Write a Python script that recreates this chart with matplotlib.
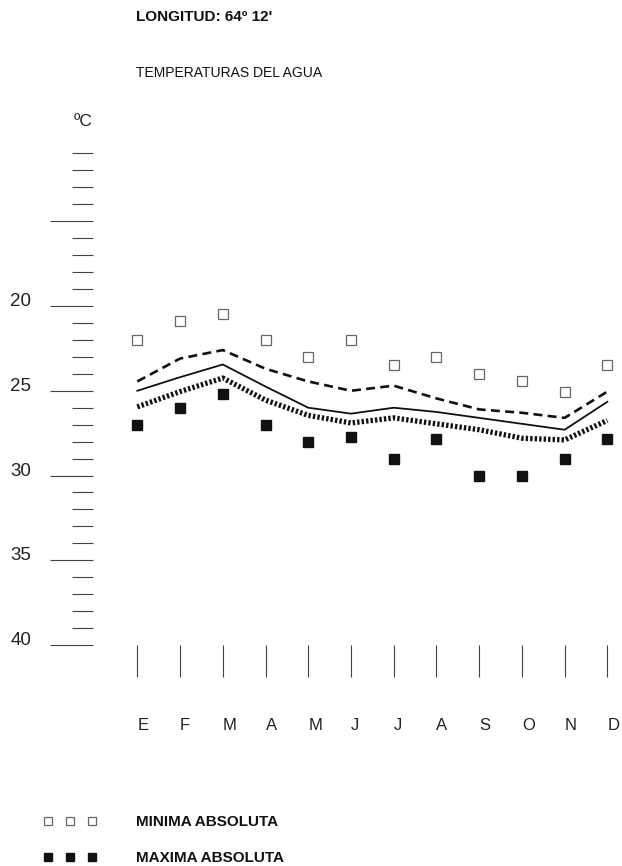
import matplotlib
matplotlib.use("Agg")
import matplotlib.pyplot as plt
from matplotlib.ticker import FixedLocator

plt.rcParams['font.family'] = ['Liberation Sans', 'DejaVu Sans']

# Monthly water temperatures (ºC)
months = ['E', 'F', 'M', 'A', 'M', 'J', 'J', 'A', 'S', 'O', 'N', 'D']
minima_absoluta = [22.0, 20.9, 20.5, 22.0, 23.0, 22.0, 23.5, 23.0, 24.0, 24.4, 25.1, 23.5]
maxima_absoluta = [27.0, 26.0, 25.2, 27.0, 28.0, 27.7, 29.0, 27.85, 30.0, 30.0, 29.0, 27.85]
media_minimas = [24.45, 23.1, 22.6, 23.7, 24.45, 25.0, 24.7, 25.45, 26.1, 26.3, 26.6, 25.05]
media = [25.0, 24.2, 23.45, 24.75, 26.0, 26.35, 26.0, 26.25, 26.6, 26.95, 27.3, 25.65]
media_maximas = [25.95, 25.05, 24.25, 25.55, 26.45, 26.9, 26.6, 26.95, 27.3, 27.8, 27.9, 26.75]

y_major = [15, 20, 25, 30, 35, 40]
y_major_labels = ['', '20', '25', '30', '35', '40']
y_minor = list(range(11, 41))

W, H = 622, 866
fig = plt.figure(figsize=(W / 100, H / 100), dpi=100)

# axes placed in pixel terms
left_px, right_px, top_px, bottom_px = 93, 622, 145, 645
ax = fig.add_axes([left_px / W, 1 - bottom_px / H,
                   (right_px - left_px) / W, (bottom_px - top_px) / H])
x = list(range(len(months)))
ax.set_xlim(-1.037, 11.343)
ax.set_ylim(40, 10.5)
for s in ax.spines.values():
    s.set_visible(False)

# temperature lines
ax.plot(x, media_minimas, color='#111', lw=1.9, linestyle=(0, (3.4, 2.0)),
        dash_capstyle='butt')
ax.plot(x, media, color='#111', lw=1.3)
ax.plot(x, media_maximas, color='#111', lw=3.8, linestyle=(0, (0.45, 0.4)),
        dash_capstyle='butt')

# absolute extremes
ax.plot(x, minima_absoluta, linestyle='none', marker='s', markersize=7,
        markerfacecolor='white', markeredgecolor='#666', markeredgewidth=0.9,
        label='MINIMA ABSOLUTA')
ax.plot(x, maxima_absoluta, linestyle='none', marker='s', markersize=6.5,
        markerfacecolor='#111', markeredgecolor='#111',
        label='MAXIMA ABSOLUTA')

# y scale: long ticks every 5 degrees, short every degree
ax.yaxis.set_major_locator(FixedLocator(y_major))
ax.set_yticklabels(y_major_labels)
ax.yaxis.set_minor_locator(FixedLocator(y_minor))
ax.tick_params(axis='y', which='major', direction='out', length=31, width=0.8,
               color='#444', pad=13.5, labelsize=13.5, labelcolor='#222')
ax.tick_params(axis='y', which='minor', direction='out', length=15, width=0.8,
               color='#444')
for lab in ax.get_yticklabels():
    lab.set_verticalalignment('baseline')

# month ticks
ax.set_xticks(x)
ax.set_xticklabels(months)
ax.tick_params(axis='x', which='major', direction='out', length=23, width=0.8,
               color='#444', pad=29.5, labelsize=12, labelcolor='#222')
for lab in ax.get_xticklabels():
    lab.set_horizontalalignment('left')

fig.text(136 / W, 1 - 17 / H, "LONGITUD: 64º 12'", fontsize=11,
         fontweight='bold', va='center', color='#111')
fig.text(136 / W, 1 - 73 / H, "TEMPERATURAS DEL AGUA", fontsize=10,
         va='center', color='#111')
fig.text(74 / W, 1 - 121 / H, "ºC", fontsize=12.5, va='center', color='#222')

leg = ax.legend(loc='center left', bbox_to_anchor=(43.6 / W, 1 - 840 / H),
                bbox_transform=fig.transFigure, frameon=False, numpoints=3,
                handlelength=3.5, handletextpad=2.55, labelspacing=1.45,
                borderpad=0, borderaxespad=0, markerscale=0.9,
                prop={'weight': 'bold', 'size': 11})
for t in leg.get_texts():
    t.set_color('#111')

fig.savefig('out.png', dpi=100)
